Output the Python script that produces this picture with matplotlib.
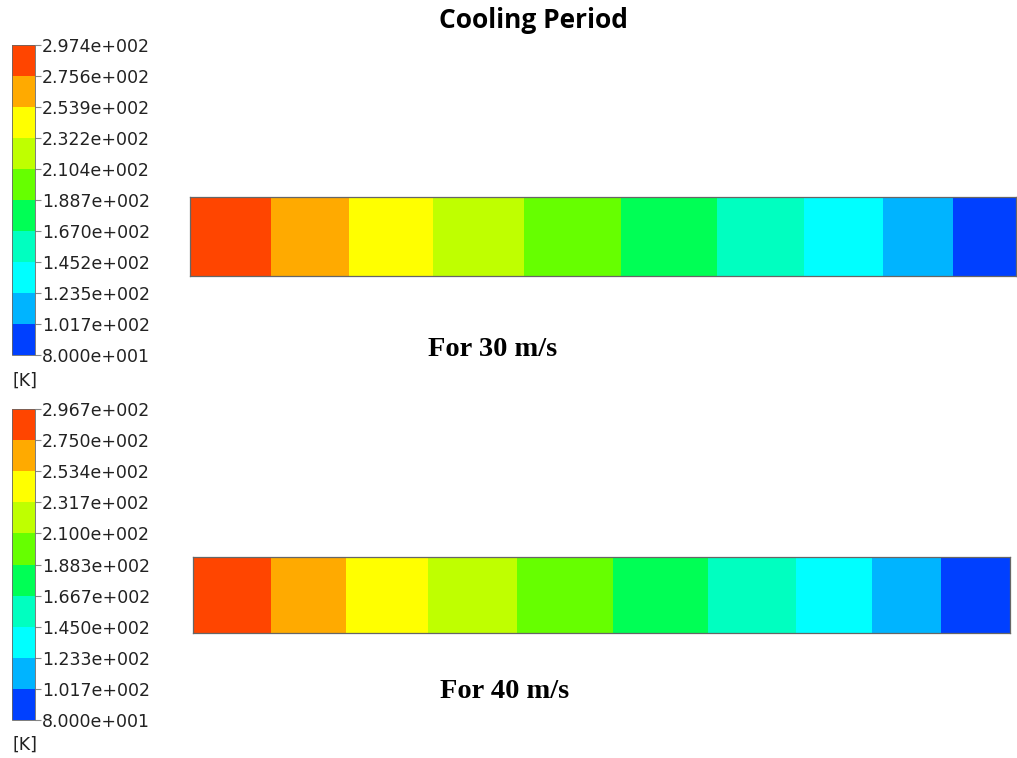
import numpy as np
import matplotlib
matplotlib.use("Agg")
import matplotlib.pyplot as plt
from matplotlib.colors import ListedColormap, BoundaryNorm

# contour levels [K] for each inlet speed
levels_30 = [80.0, 101.7, 123.5, 145.2, 167.0, 188.7, 210.4, 232.2, 253.9, 275.6, 297.4]
levels_40 = [80.0, 101.7, 123.3, 145.0, 166.7, 188.3, 210.0, 231.7, 253.4, 275.0, 296.7]

# band edges along the tube (x / L) and the band temperatures [K]
edges_30 = [0.0, 0.098, 0.192, 0.294, 0.404, 0.522, 0.638, 0.743, 0.839, 0.924, 1.0]
temp_30 = [286, 265, 243, 221, 200, 178, 156, 134, 113, 91]
edges_40 = [0.0, 0.095, 0.187, 0.288, 0.397, 0.514, 0.630, 0.738, 0.831, 0.916, 1.0]
temp_40 = [286, 264, 243, 221, 199, 177, 156, 134, 112, 91]

colors = ['#0040ff', '#00b4ff', '#00ffff', '#00ffc0', '#00ff55',
          '#66ff00', '#bfff00', '#ffff00', '#ffaa00', '#ff4500']
cmap = ListedColormap(colors)

W, H = 1017, 758
fig = plt.figure(figsize=(W / 100, H / 100), dpi=100)


def box(x0, y0, x1, y1):
    # pixel box -> figure fraction
    return [x0 / W, 1 - y1 / H, (x1 - x0) / W, (y1 - y0) / H]


def ansys_fmt(v):
    m, e = ("%.3e" % v).split("e")
    return "%se%+04d" % (m, int(e))


def panel(levels, edges, temps, strip_box, cbar_box, k_y, label, label_xy):
    norm = BoundaryNorm(levels, cmap.N)
    ax = fig.add_axes(box(*strip_box))
    mesh = ax.pcolormesh(edges, [0, 1], np.array([temps]), cmap=cmap, norm=norm)
    ax.set_xlim(0, 1)
    ax.set_ylim(0, 1)
    ax.set_xticks([])
    ax.set_yticks([])
    for s in ax.spines.values():
        s.set_color('#666666')
        s.set_linewidth(0.9)

    cax = fig.add_axes(box(*cbar_box))
    cb = fig.colorbar(mesh, cax=cax, ticks=levels)
    cb.ax.set_yticklabels([ansys_fmt(v) for v in levels])
    cb.ax.tick_params(length=4, width=0.8, color='#888888', pad=1,
                      labelsize=12.5, labelcolor='#222222')
    cb.outline.set_edgecolor('#666666')
    cb.outline.set_linewidth(0.6)

    fig.text(12 / W, 1 - k_y / H, "[K]", fontsize=12.5, color='#222222',
             ha='left', va='center')
    fig.text(label_xy[0] / W, 1 - label_xy[1] / H, label, family='Liberation Serif',
             fontweight='bold', fontsize=20.5, ha='center', va='center')


panel(levels_30, edges_30, temp_30, (190, 197, 1016, 276), (12, 45, 35, 355),
      381, "For 30 m/s", (493, 350))
panel(levels_40, edges_40, temp_40, (193, 557, 1010, 633), (12, 409, 35, 720),
      745, "For 40 m/s", (505, 691))

fig.text(533 / W, 1 - 21 / H, "Cooling Period", family='Open Sans', fontweight='bold',
         fontsize=19, ha='center', va='center')

fig.savefig("out.png", dpi=100, facecolor='white')
